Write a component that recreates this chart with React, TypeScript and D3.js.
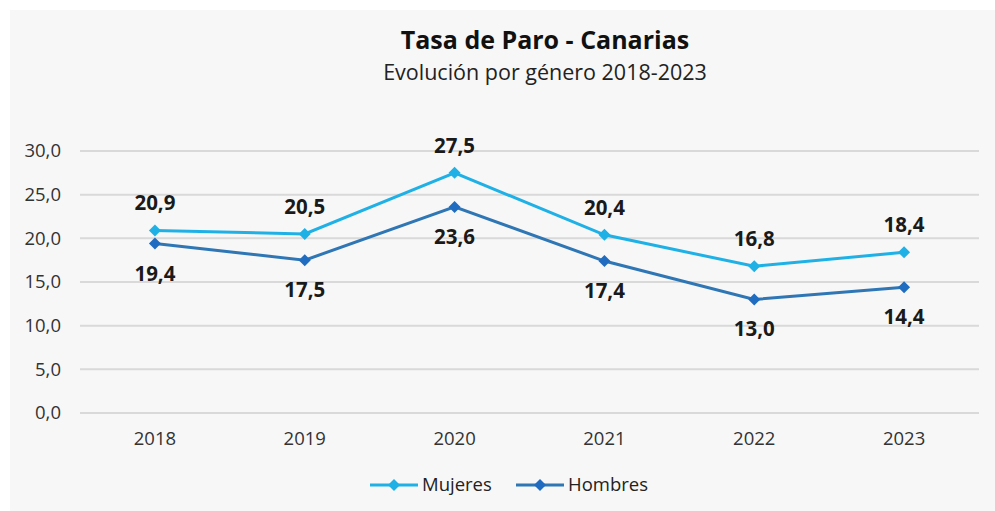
import * as d3 from 'd3';
import React from 'react';

const years = ['2018', '2019', '2020', '2021', '2022', '2023'];
const mujeres = [20.9, 20.5, 27.5, 20.4, 16.8, 18.4];
const hombres = [19.4, 17.5, 23.6, 17.4, 13.0, 14.4];
const yTicks = [0, 5, 10, 15, 20, 25, 30];

const width = 995;
const height = 511;
const margin = { top: 151, right: 16, bottom: 98, left: 80 };
const font = "'Open Sans', 'Noto Sans', sans-serif";

const fmt = (v: number) => v.toFixed(1).replace('.', ',');

const App: React.FC = () => {
  const x = d3
    .scalePoint<string>()
    .domain(years)
    .range([margin.left, width - margin.right])
    .padding(0.5);

  const y = d3
    .scaleLinear()
    .domain([0, 30])
    .range([height - margin.bottom, margin.top]);

  const line = d3
    .line<number>()
    .x((_, i) => x(years[i])!)
    .y((d) => y(d));

  const series = [
    { name: 'Mujeres', values: mujeres, color: '#1fb1e6', marker: '#1fb1e6', dy: -20 },
    { name: 'Hombres', values: hombres, color: '#2f76b5', marker: '#1f6cc0', dy: 37 },
  ];

  const diamond = (cx: number, cy: number, r = 6) =>
    `M${cx},${cy - r}L${cx + r},${cy}L${cx},${cy + r}L${cx - r},${cy}Z`;

  const legend = [
    { name: 'Mujeres', x0: 370, color: '#1fb1e6', marker: '#1fb1e6' },
    { name: 'Hombres', x0: 516, color: '#2f76b5', marker: '#1f6cc0' },
  ];

  return (
    <div style={{ position: 'fixed', left: 0, top: 0 }}>
      <svg width={width} height={height} style={{ display: 'block', fontFamily: font }}>
        <rect x={0} y={0} width={width} height={height} fill="#ffffff" />
        <rect x={10} y={10} width={width - 10} height={height - 10} fill="#f7f7f7" />

        <text x={545} y={49} textAnchor="middle" fontSize={25} fontWeight={700} fill="#111">
          Tasa de Paro - Canarias
        </text>
        <text x={545} y={80} textAnchor="middle" fontSize={21.5} fill="#222">
          Evolución por género 2018-2023
        </text>

        {yTicks.map((t) => (
          <g key={t}>
            <line
              x1={margin.left}
              x2={width - margin.right}
              y1={y(t)}
              y2={y(t)}
              stroke="#d9d9d9"
              strokeWidth={2}
            />
            <text x={61} y={y(t)} dy="0.35em" textAnchor="end" fontSize={18.5} fill="#333">
              {fmt(t)}
            </text>
          </g>
        ))}

        {years.map((yr) => (
          <text key={yr} x={x(yr)} y={445} textAnchor="middle" fontSize={18.5} fill="#333">
            {yr}
          </text>
        ))}

        {series.map((s) => (
          <g key={s.name}>
            <path d={line(s.values)!} fill="none" stroke={s.color} strokeWidth={3} />
            {s.values.map((v, i) => (
              <path key={i} d={diamond(x(years[i])!, y(v))} fill={s.marker} />
            ))}
            {s.values.map((v, i) => (
              <text
                key={`l${i}`}
                x={x(years[i])}
                y={y(v) + s.dy}
                textAnchor="middle"
                fontSize={20.5}
                fontWeight={700}
                fill="#1a1a1a"
              >
                {fmt(v)}
              </text>
            ))}
          </g>
        ))}

        {legend.map((l) => (
          <g key={l.name}>
            <line x1={l.x0} x2={l.x0 + 48} y1={485} y2={485} stroke={l.color} strokeWidth={3} />
            <path d={diamond(l.x0 + 24, 485)} fill={l.marker} />
            <text x={l.x0 + 52} y={485} dy="0.35em" fontSize={18.5} fill="#222">
              {l.name}
            </text>
          </g>
        ))}
      </svg>
    </div>
  );
};

export default App;
